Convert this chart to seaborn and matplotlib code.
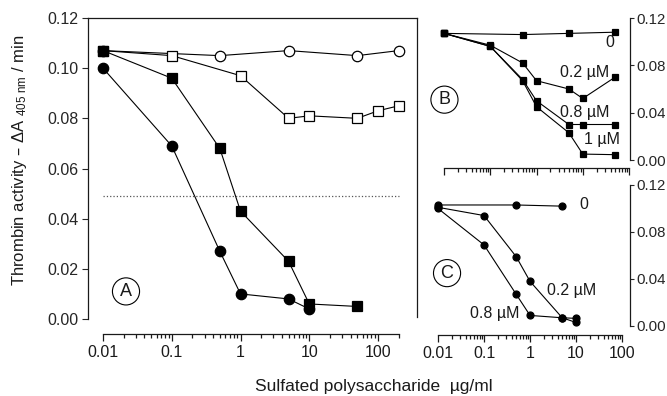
import numpy as np
import seaborn as sns
import matplotlib.pyplot as plt

# panel A
a_open_circ_x = [0.01, 0.5, 5, 50, 200]
a_open_circ_y = [0.107, 0.105, 0.107, 0.105, 0.107]
a_open_sq_x = [0.01, 0.1, 1, 5, 10, 50, 100, 200]
a_open_sq_y = [0.107, 0.105, 0.097, 0.080, 0.081, 0.080, 0.083, 0.085]
a_fill_circ_x = [0.01, 0.1, 0.5, 1, 5, 10]
a_fill_circ_y = [0.100, 0.069, 0.027, 0.010, 0.008, 0.004]
a_fill_sq_x = [0.01, 0.1, 0.5, 1, 5, 10, 50]
a_fill_sq_y = [0.107, 0.096, 0.068, 0.043, 0.023, 0.006, 0.005]
half_x = [0.01, 200]
half_y = [0.049, 0.049]

# panel B
b0_x = [0.01, 0.5, 5, 50]
b0_y = [0.107, 0.106, 0.107, 0.108]
b_x = [0.01, 0.1, 0.5, 1, 5, 10, 50]
b02_y = [0.107, 0.097, 0.082, 0.067, 0.060, 0.052, 0.070]
b08_y = [0.107, 0.096, 0.068, 0.050, 0.030, 0.030, 0.030]
b1_y = [0.107, 0.096, 0.067, 0.045, 0.023, 0.005, 0.0045]

# panel C
c0_x = [0.01, 0.5, 5]
c0_y = [0.103, 0.103, 0.102]
c_x = [0.01, 0.1, 0.5, 1, 5, 10]
c02_y = [0.101, 0.094, 0.059, 0.038, 0.007, 0.0065]
c08_y = [0.100, 0.069, 0.027, 0.009, 0.007, 0.003]

dec_vals = [0.01, 0.1, 1, 10, 100]
dec_labels = ["0.01", "0.1", "1", "10", "100"]
yticks = [0.00, 0.02, 0.04, 0.06, 0.08, 0.10, 0.12]
yticks_small = [0.00, 0.04, 0.08, 0.12]

sns.set_theme(style="ticks")
plt.rcParams['font.family'] = ['Liberation Sans', 'DejaVu Sans']
plt.rcParams['font.size'] = 11.5
plt.rcParams['axes.linewidth'] = 0.9
plt.rcParams['axes.edgecolor'] = '#1a1a1a'
plt.rcParams['text.color'] = '#1a1a1a'

FS = 11.5
W, H = 667, 396
fig = plt.figure(figsize=(W / 100, H / 100), dpi=100)
L = np.log10  # x is plotted as log10 on a linear axis


def box(l, r, t, b):
    return [l / W, 1 - b / H, (r - l) / W, (b - t) / H]


def style_x(ax, lo, hi, bound_hi, labels=True):
    ax.set_xlim(L(lo), L(hi))
    ax.spines['bottom'].set_visible(True)
    ax.spines['bottom'].set_bounds(L(0.01), L(bound_hi))
    ax.set_xticks(L(dec_vals))
    ax.set_xticklabels(dec_labels if labels else [])
    minors = [m * d for d in dec_vals for m in range(2, 10) if m * d <= bound_hi * 1.001]
    ax.set_xticks(L(minors), minor=True)
    ax.tick_params(axis='x', which='major', bottom=True, length=5, width=0.9, direction='out',
                   colors='#1a1a1a', labelsize=FS, pad=3)
    ax.tick_params(axis='x', which='minor', bottom=True, length=3.2, width=0.9, direction='out',
                   colors='#1a1a1a')
    ax.set_xlabel('')
    ax.set_ylabel('')


def draw(ax, x, y, marker, face, ms):
    sns.lineplot(x=L(x), y=y, ax=ax, color='black', linewidth=0.8, marker=marker,
                 markersize=ms, markerfacecolor=face, markeredgecolor='black',
                 markeredgewidth=0.9, sort=False, estimator=None, legend=False)


def circled(ax, x, y, s):
    ax.text(L(x), y, s, ha='center', va='center', fontsize=13,
            bbox=dict(boxstyle='circle,pad=0.28', fc='white', ec='black', lw=0.8))


def label(ax, x, y, s, ha='center'):
    ax.text(L(x), y, s, ha=ha, va='center')


# ---- panel A
axA = fig.add_axes(box(88, 417, 18, 334))
draw(axA, a_open_circ_x, a_open_circ_y, 'o', 'white', 7.5)
draw(axA, a_open_sq_x, a_open_sq_y, 's', 'white', 6.5)
draw(axA, a_fill_circ_x, a_fill_circ_y, 'o', 'black', 7.5)
draw(axA, a_fill_sq_x, a_fill_sq_y, 's', 'black', 6.5)
sns.lineplot(x=L(half_x), y=half_y, ax=axA, color='#555555', linewidth=0.9, linestyle=':', legend=False)

# ---- panel B
axB = fig.add_axes(box(417, 630, 18, 168))
draw(axB, b0_x, b0_y, 's', 'black', 5)
draw(axB, b_x, b02_y, 's', 'black', 5)
draw(axB, b_x, b08_y, 's', 'black', 5)
draw(axB, b_x, b1_y, 's', 'black', 5)

# ---- panel C
axC = fig.add_axes(box(417, 630, 185, 335))
draw(axC, c0_x, c0_y, 'o', 'black', 5)
draw(axC, c_x, c02_y, 'o', 'black', 5)
draw(axC, c_x, c08_y, 'o', 'black', 5)

style_x(axA, 0.00605, 369, 200)
style_x(axB, 0.0026, 105, 100, labels=False)
style_x(axC, 0.00349, 149, 100)

axA.set_ylim(-0.00598, 0.12)
axA.set_yticks(yticks)
axA.set_yticklabels(["%.2f" % v for v in yticks])
axA.tick_params(axis='y', length=4, width=0.8, direction='out', labelsize=FS, pad=3)
for s in ['top', 'right', 'left']:
    axA.spines[s].set_visible(True)
axA.spines['left'].set_bounds(0, 0.12)
axA.spines['right'].set_bounds(0.0008, 0.12)
circled(axA, 0.0216, 0.011, 'A')

for ax, lo in ((axB, -0.00676), (axC, -0.00766)):
    ax.set_ylim(lo, 0.12)
    ax.spines['left'].set_visible(False)
    ax.spines['top'].set_visible(False)
    ax.spines['right'].set_visible(True)
    ax.spines['right'].set_bounds(0, 0.12)
    ax.yaxis.tick_right()
    ax.set_yticks(yticks_small)
    ax.set_yticklabels(["%.2f" % v for v in yticks_small])
    ax.tick_params(axis='y', length=3, width=0.8, direction='out', labelsize=10.8, pad=1.5)
    ax.patch.set_alpha(0)

circled(axB, 0.0102, 0.051, 'B')
label(axB, 38.8, 0.099, '0')
label(axB, 11.2, 0.074, '0.2 µM')
label(axB, 11.2, 0.040, '0.8 µM')
label(axB, 26, 0.017, '1 µM')

circled(axC, 0.0157, 0.045, 'C')
label(axC, 11.6, 0.1035, '0', ha='left')
label(axC, 8.2, 0.030, '0.2 µM')
label(axC, 0.173, 0.011, '0.8 µM')

fig.text(374 / W, 1 - 386 / H, 'Sulfated polysaccharide  µg/ml', ha='center', va='center', fontsize=12.5)
fig.text(20 / W, 1 - 160 / H, r'Thrombin activity – ΔA $\mathregular{_{405\ nm}}$ / min',
         rotation=90, ha='center', va='center', fontsize=12)

fig.savefig('out.png', dpi=100)
